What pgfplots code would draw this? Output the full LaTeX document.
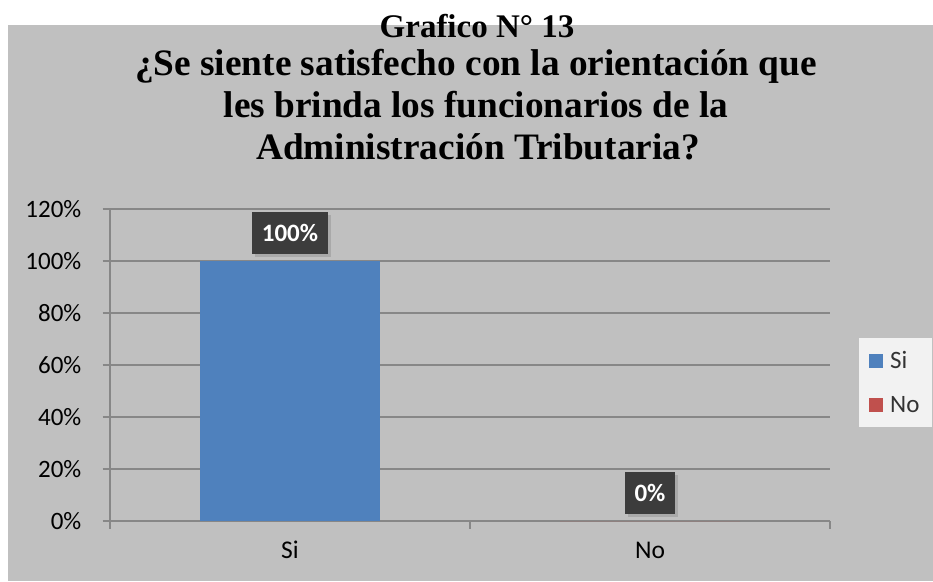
\documentclass[border=0pt]{standalone}
\usepackage{pgfplots}
\pgfplotsset{compat=1.18}
\usepackage{fontspec}
\setmainfont{Carlito}
\newfontfamily\titlefont{Liberation Serif}
\usetikzlibrary{shadows}
\definecolor{chartbg}{HTML}{C0C0C0}
\definecolor{legendbg}{HTML}{F2F2F2}
\definecolor{gridgray}{HTML}{878787}
\definecolor{barblue}{HTML}{4F81BD}
\definecolor{barred}{HTML}{C0504D}
\definecolor{labelbg}{HTML}{3C3C3C}
\begin{document}
\begin{tikzpicture}[x=1pt,y=1pt]
\useasboundingbox (0,0) rectangle (933,581);
\fill[white] (0,0) rectangle (933,581);
\fill[chartbg] (8,0) rectangle (933,556);
\node[anchor=base, inner sep=0pt, font=\titlefont\bfseries\fontsize{33}{40}\selectfont] at (477,543) {Grafico N° 13};
\node[anchor=base, inner sep=0pt, font=\titlefont\bfseries\fontsize{37.3}{42}\selectfont] at (476,505) {¿Se siente satisfecho con la orientación que};
\node[anchor=base, inner sep=0pt, font=\titlefont\bfseries\fontsize{37.3}{42}\selectfont] at (476,463) {les brinda los funcionarios de la};
\node[anchor=base, inner sep=0pt, font=\titlefont\bfseries\fontsize{37.3}{42}\selectfont] at (478,421) {Administración Tributaria?};
\begin{axis}[
  at={(110pt,60pt)}, anchor=south west,
  scale only axis, width=720pt, height=312pt,
  xmin=-0.5, xmax=1.5, ymin=0, ymax=120,
  xtick={-0.5,0.5,1.5}, xticklabels={},
  extra x ticks={0,1}, extra x tick labels={Si,No},
  extra x tick style={major tick length=0pt, xticklabel style={text height=17pt, text depth=0pt, yshift=-16.7pt, font=\fontsize{25.5}{25.5}\selectfont}},
  ytick={0,20,40,60,80,100,120},
  yticklabels={0\%,20\%,40\%,60\%,80\%,100\%,120\%},
  axis x line*=bottom, axis y line*=left,
  tick align=outside, major tick length=7.5pt,
  ymajorgrids,
  grid style={gridgray, line width=1.3pt},
  axis line style={gridgray, line width=1.3pt, -},
  tick style={gridgray, line width=1.3pt},
  ticklabel style={font=\fontsize{25}{25}\selectfont, text=black},
  yticklabel style={inner xsep=0pt, xshift=-21pt},
  legend style={at={(1,0.5)}, anchor=west, xshift=29pt, yshift=-17.5pt,
    draw=none, fill=legendbg, font=\fontsize{25}{25}\selectfont, text=black!80,
    inner xsep=10pt, inner ysep=11.5pt, row sep=22pt},
  legend cell align=left,
  legend image code/.code={\fill[#1] (0pt,-7pt) rectangle (14pt,7pt); \path (19pt,0pt);},
  point meta=explicit symbolic,
  nodes near coords,
  every node near coord/.append style={fill=labelbg, text=white,
    font=\bfseries\fontsize{25}{25}\selectfont, inner xsep=10pt, inner ysep=0pt,
    minimum height=42pt, anchor=south, yshift=7pt,
    drop shadow={shadow xshift=3pt, shadow yshift=-3pt, opacity=0.35}},
]
\addplot[ybar, bar width=180pt, bar shift=0pt, fill=barblue, draw=none] coordinates {(0,100) [100\%]};
\addlegendentry{Si}
\addplot[ybar, bar width=180pt, bar shift=0pt, fill=barred, draw=none] coordinates {(1,0) [0\%]};
\addlegendentry{No}
\end{axis}
\end{tikzpicture}
\end{document}
